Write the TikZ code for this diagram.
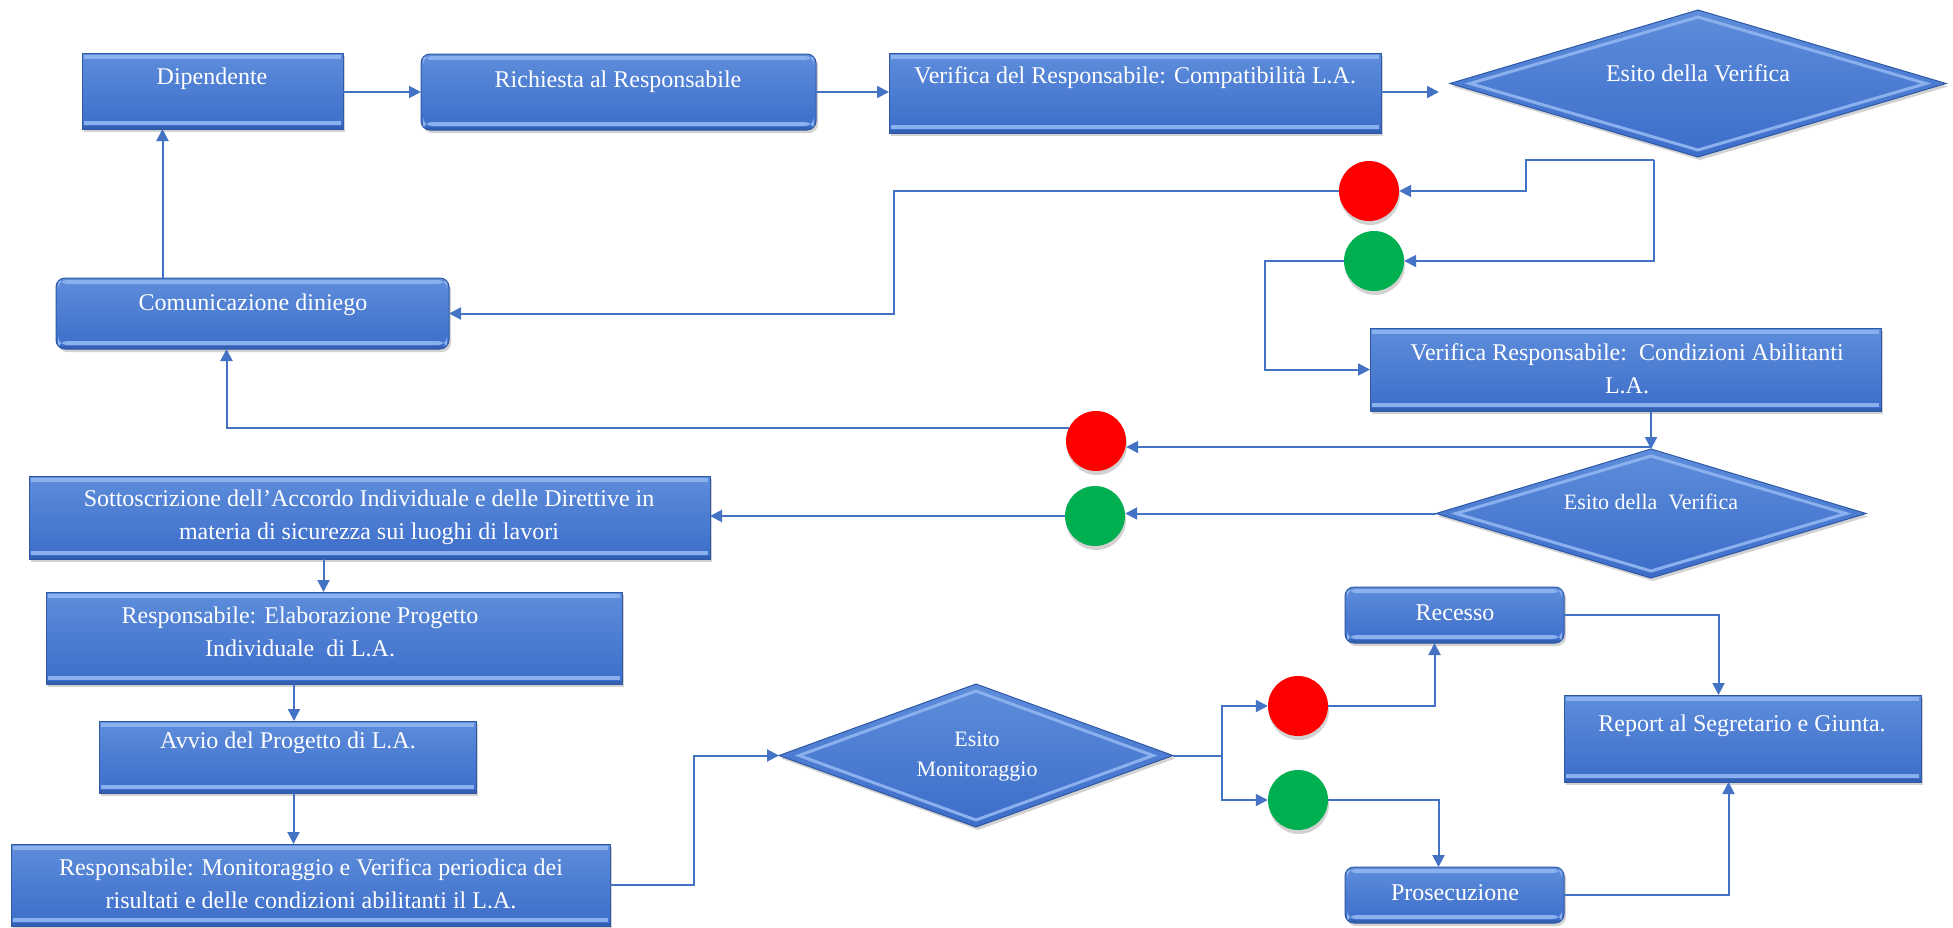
\documentclass[tikz,border=0pt]{standalone}
\usepackage{fontspec}
\setmainfont{Liberation Serif}
\usetikzlibrary{shapes.geometric,shadows,calc,arrows.meta}
\definecolor{linec}{HTML}{4472C4}
\definecolor{boxtop}{HTML}{5E8DDB}
\definecolor{boxbot}{HTML}{3C6DC9}
\definecolor{bevl}{HTML}{8BB0EE}
\definecolor{bevd}{HTML}{2E58A4}
\definecolor{redc}{HTML}{FF0000}
\definecolor{greenc}{HTML}{00B050}
\begin{document}
\begin{tikzpicture}[x=1pt,y=-1pt,
  arr/.style={draw=linec, line width=2pt, -{Triangle[length=12pt,width=12pt]}},
  ln/.style={draw=linec, line width=2pt},
  txt/.style={text=white, font=\fontsize{24}{33}\selectfont, align=center, inner sep=0pt},
  stxt/.style={txt, font=\fontsize{22}{30}\selectfont},
  base/.style={draw=bevd, line width=1pt, top color=boxtop, bottom color=boxbot,
    inner sep=0pt, outer sep=0pt,
    drop shadow={opacity=0.35, shadow xshift=2pt, shadow yshift=-3pt}},
  sqbox/.style={base, rectangle, path picture={
    \fill[bevl] ([shift={(2pt,-2pt)}]path picture bounding box.north west) rectangle ([shift={(-2pt,-6pt)}]path picture bounding box.north east);
    \fill[bevl] ([shift={(2pt,4pt)}]path picture bounding box.south west) rectangle ([shift={(-2pt,8pt)}]path picture bounding box.south east);
    \fill[bevd, opacity=0.6] (path picture bounding box.south west) rectangle ([yshift=3pt]path picture bounding box.south east);
  }},
  rbox/.style={sqbox, rounded corners=9pt},
  dmd/.style={base, diamond, path picture={
    \draw[bevl, line width=3pt, line join=miter] ([yshift=-7pt]path picture bounding box.north) -- ([xshift=-20pt]path picture bounding box.east) -- ([yshift=7pt]path picture bounding box.south) -- ([xshift=20pt]path picture bounding box.west) -- cycle;
  }},
  dot/.style={circle, inner sep=0pt, minimum size=60pt,
    drop shadow={opacity=0.35, shadow xshift=1pt, shadow yshift=-4pt}},
]
\fill[white] (0,0) rectangle (1953,927);
\useasboundingbox (0,0) rectangle (1953,927);

% boxes
\node[sqbox, minimum width=261pt, minimum height=76pt] (dip) at (212.5,91) {};
\node[rbox, minimum width=395pt, minimum height=76pt] (rich) at (618.5,92) {};
\node[sqbox, minimum width=492pt, minimum height=80pt] (ver1) at (1135,93) {};
\node[dmd, minimum width=496pt, minimum height=147pt] (d1) at (1698,83.5) {};
\node[rbox, minimum width=393pt, minimum height=71pt] (com) at (252.5,313.5) {};
\node[sqbox, minimum width=511pt, minimum height=83pt] (ver2) at (1625.5,369.5) {};
\node[dmd, minimum width=430pt, minimum height=129pt] (d2) at (1651,513.5) {};
\node[sqbox, minimum width=681pt, minimum height=83pt] (sot) at (369.5,517.5) {};
\node[sqbox, minimum width=576pt, minimum height=92pt] (ela) at (334,638) {};
\node[sqbox, minimum width=377pt, minimum height=72pt] (avv) at (287.5,757) {};
\node[sqbox, minimum width=599pt, minimum height=82pt] (mon) at (310.5,885) {};
\node[dmd, minimum width=394pt, minimum height=143pt] (d3) at (976,755.5) {};
\node[rbox, minimum width=219pt, minimum height=56pt] (rec) at (1454.5,615) {};
\node[sqbox, minimum width=357pt, minimum height=87pt] (rep) at (1742.5,738.5) {};
\node[rbox, minimum width=219pt, minimum height=56pt] (pro) at (1454.5,895) {};

% circles
\node[dot, fill=redc] (r1) at (1369,191) {};
\node[dot, fill=greenc] (g1) at (1374,261) {};
\node[dot, fill=redc] (r2) at (1096,441) {};
\node[dot, fill=greenc] (g2) at (1095,516) {};
\node[dot, fill=redc] (r3) at (1298,706) {};
\node[dot, fill=greenc] (g3) at (1298,800) {};

% texts
\node[txt] (tdip) at (212,79) {Dipendente};
\node[txt] (trich) at (618,82) {Richiesta al Responsabile};
\node[txt] (tver1) at (1135,78) {Verifica del Responsabile: Compatibilità L.A.};
\node[txt] (td1) at (1698,73) {Esito della Verifica};
\node[txt] (tcom) at (253,305) {Comunicazione diniego};
\node[txt] (tver2) at (1627,369) {Verifica Responsabile:\ \ Condizioni Abilitanti\\L.A.};
\node[stxt] (td2) at (1651,502) {Esito della\ \ Verifica};
\node[txt] (tsot) at (369,517) {Sottoscrizione dell’Accordo Individuale e delle Direttive in\\materia di sicurezza sui luoghi di lavori};
\node[txt] (tela) at (300,632) {Responsabile: Elaborazione Progetto\\Individuale\ \ di L.A.};
\node[txt] (tavv) at (288,743) {Avvio del Progetto di L.A.};
\node[txt] (tmon) at (311,884) {Responsabile: Monitoraggio e Verifica periodica dei\\risultati e delle condizioni abilitanti il L.A.};
\node[stxt] (td3) at (977,757) {Esito\\Monitoraggio};
\node[txt] (trec) at (1455,613) {Recesso};
\node[txt] (trep) at (1742,726) {Report al Segretario e Giunta.};
\node[txt] (tpro) at (1455,893) {Prosecuzione};

% helper coordinates
\coordinate (x4) at ($(com.north)+(-90,0)$);
\coordinate (d1o) at ($(d1.south)+(-44,3)$);
\coordinate (j2) at ($(d2.north)+(0,-2)$);
\coordinate (x14) at ($(sot.south)+(-46,0)$);
\coordinate (x15) at ($(ela.south)+(-40,0)$);
\coordinate (x16) at ($(avv.south)+(6,0)$);
\coordinate (j3) at ($(d3.east)+(49,0)$);

% connectors
\draw[arr] (rich.west -| dip.east) -- (rich.west);
\draw[arr] (rich.east) -- (rich.east -| ver1.west);
\draw[arr] (ver1.east |- rich.east) -- ++(58,0);
\draw[arr] (x4) -- (x4 |- dip.south);
\draw[arr] (d1o) -- ++(-128,0) |- (r1.east);
\draw[arr] (d1o) |- (g1.east);
\draw[arr] (r1.west) -- ++(-445,0) |- (com.east);
\draw[arr] (g1.west) -- ++(-79,0) |- (ver2.west);
\draw[arr] (ver2.south -| d2.north) -- (d2.north);
\draw[arr] (j2) -- (j2 -| r2.east);
\draw[arr] (d2.west) -- (d2.west -| g2.east);
\draw[arr] (r2.155) -| ($(com.south)+(-26,0)$);
\draw[arr] (g2.west) -- (g2.west -| sot.east);
\draw[arr] (x14) -- (x14 |- ela.north);
\draw[arr] (x15) -- (x15 |- avv.north);
\draw[arr] (x16) -- (x16 |- mon.north);
\draw[arr] (mon.east) -- ++(84,0) |- (d3.west);
\draw[ln] (d3.east) -- (j3);
\draw[arr] (j3) |- (r3.west);
\draw[arr] (j3) |- (g3.west);
\draw[arr] (r3.east) -| ($(rec.south)+(-20,0)$);
\draw[arr] (g3.east) -| ($(pro.north)+(-16,0)$);
\draw[arr] (rec.east) -| ($(rep.north)+(-24,0)$);
\draw[arr] (pro.east) -| ($(rep.south)+(-14,0)$);
\end{tikzpicture}
\end{document}
